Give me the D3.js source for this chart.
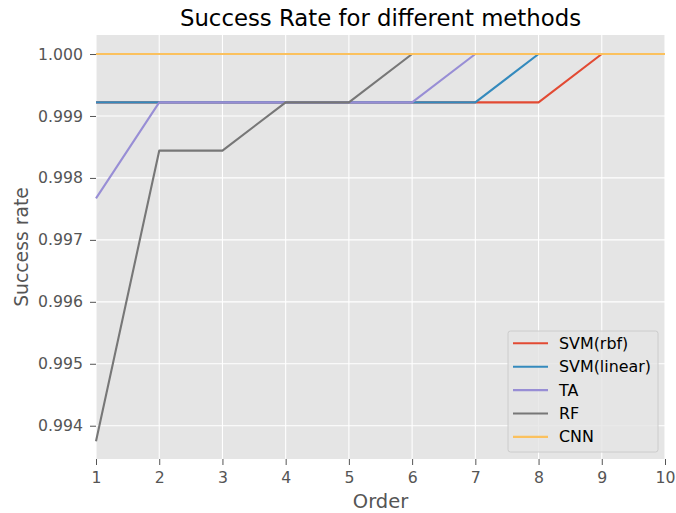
<!DOCTYPE html>
<html><head><meta charset="utf-8">
<script src="https://cdn.jsdelivr.net/npm/d3@7"></script>
<style>body{margin:0;background:#fff}svg{display:block;font-family:"DejaVu Sans",sans-serif}</style>
</head><body><svg id="c" width="676" height="513"></svg>
<script>
const orders = [1,2,3,4,5,6,7,8,9,10];
const svmRbf    = [0.99922,0.99922,0.99922,0.99922,0.99922,0.99922,0.99922,0.99922,1,1];
const svmLinear = [0.99922,0.99922,0.99922,0.99922,0.99922,0.99922,0.99922,1,1,1];
const ta        = [0.99767,0.99922,0.99922,0.99922,0.99922,0.99922,1,1,1,1];
const rf        = [0.99375,0.99844,0.99844,0.99922,0.99922,1,1,1,1,1];
const cnn       = [1,1,1,1,1,1,1,1,1,1];
const seriesNames = ["SVM(rbf)","SVM(linear)","TA","RF","CNN"];
const seriesColors = ["#E24A33","#348ABD","#988ED5","#777777","#FBC15E"];
const yTicks = [0.994,0.995,0.996,0.997,0.998,0.999,1.000];
const series = [svmRbf, svmLinear, ta, rf, cnn];

const svg = d3.select("#c");
const L=96, R=665, T=35, B=459;
const x = d3.scaleLinear().domain([1,10]).range([L,R]);
const y = d3.scaleLinear().domain([0.993463,1.000307]).range([B,T]);

svg.append("rect").attr("x",L).attr("y",T).attr("width",R-L).attr("height",B-T).attr("fill","#E5E5E5");
// grid
svg.append("g").selectAll("line").data(orders).join("line")
  .attr("x1",d=>x(d)).attr("x2",d=>x(d)).attr("y1",T).attr("y2",B)
  .attr("stroke","#fff").attr("stroke-width",1.1);
svg.append("g").selectAll("line").data(yTicks).join("line")
  .attr("y1",d=>y(d)).attr("y2",d=>y(d)).attr("x1",L).attr("x2",R)
  .attr("stroke","#fff").attr("stroke-width",1.1);

// axes
const xa = svg.append("g").attr("transform",`translate(0,${B})`)
  .call(d3.axisBottom(x).tickValues(orders).tickFormat(d3.format("d")).tickSize(6).tickPadding(7));
const ya = svg.append("g").attr("transform",`translate(${L},0)`)
  .call(d3.axisLeft(y).tickValues(yTicks).tickFormat(d3.format(".3f")).tickSize(6).tickPadding(7));
[xa,ya].forEach(a=>{
  a.select(".domain").remove();
  a.selectAll(".tick line").attr("stroke","#555").attr("stroke-width",1);
  a.selectAll(".tick text").attr("fill","#555").style("font-size","15.7px").style("font-family","DejaVu Sans");
});

// lines
const line = d3.line().x((d,i)=>x(orders[i])).y(d=>y(d));
series.forEach((s,i)=>{
  svg.append("path").datum(s).attr("d",line).attr("fill","none")
    .attr("stroke",seriesColors[i]).attr("stroke-width",2.1).attr("stroke-linejoin","round");
});

// title & labels
svg.append("text").attr("x",(L+R)/2).attr("y",26).attr("text-anchor","middle")
  .style("font-size","22.8px").attr("fill","#000").text("Success Rate for different methods");
svg.append("text").attr("x",(L+R)/2).attr("y",508).attr("text-anchor","middle")
  .style("font-size","19.5px").attr("fill","#555").text("Order");
svg.append("text").attr("transform",`translate(28,${(T+B)/2}) rotate(-90)`).attr("text-anchor","middle")
  .style("font-size","18.8px").attr("fill","#555").text("Success rate");

// legend
const lg = svg.append("g");
lg.append("rect").attr("x",508).attr("y",331).attr("width",150).attr("height",121).attr("rx",2.5)
  .attr("fill","#E5E5E5").attr("fill-opacity",0.8).attr("stroke","#CCCCCC").attr("stroke-width",1);
seriesNames.forEach((n,i)=>{
  const yy = 343.3 + i*23.4;
  lg.append("line").attr("x1",513).attr("x2",548).attr("y1",yy).attr("y2",yy)
    .attr("stroke",seriesColors[i]).attr("stroke-width",2.1);
  lg.append("text").attr("x",559).attr("y",yy+5.5).style("font-size","15.9px").attr("fill","#000").text(n);
});
</script></body></html>
